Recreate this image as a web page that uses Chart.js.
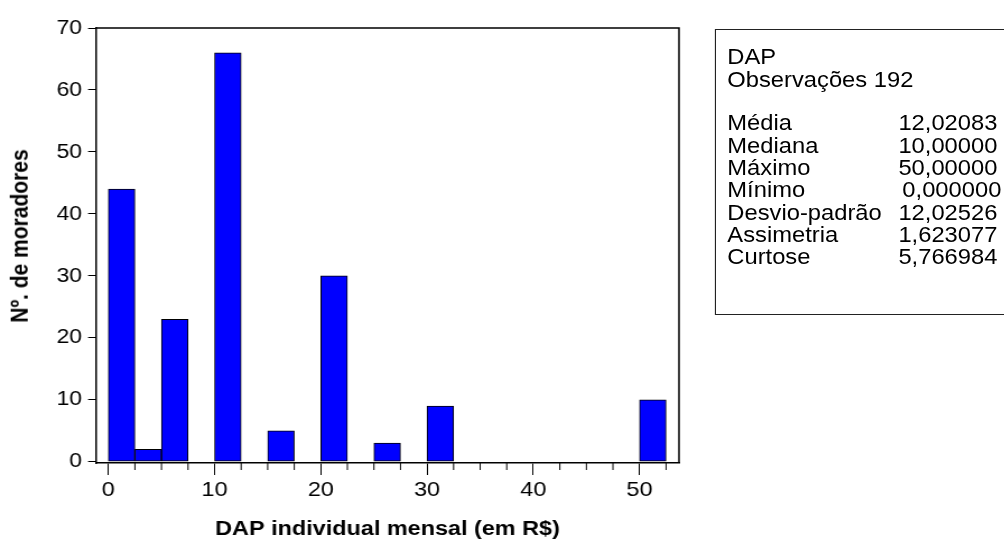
<!DOCTYPE html>
<html>
<head>
<meta charset="utf-8">
<script src="https://cdn.jsdelivr.net/npm/chart.js@4.4.1/dist/chart.umd.min.js"></script>
<style>
body { margin: 0; background: #fff; overflow: hidden; }
/* the original graph is a bit stretched sideways, so draw narrower and widen */
#wrap {
    position: relative; width: 896px; height: 542px;
    transform: scaleX(1.1205); transform-origin: 0 0;
}
#stats {
    position: absolute; left: 637.5px; top: 29px; width: 280px; height: 286px;
    border: 1px solid #222; box-sizing: border-box;
    font-family: "Liberation Sans", Arial, sans-serif; font-size: 21.2px; line-height: 22px; color: #000;
}
#stats .row { position: absolute; left: 10.6px; white-space: nowrap; }
#stats .val { position: absolute; left: 163.3px; white-space: nowrap; }
#ytitle {
    position: absolute; left: 18.3px; top: 236px;
    transform: translate(-50%, -50%) rotate(-90deg);
    font-family: "Liberation Sans", Arial, sans-serif; font-size: 21px; font-weight: bold;
    white-space: nowrap; color: #000;
}
</style>
</head>
<body>
<div id="wrap">
    <canvas id="histChart" width="896" height="542"></canvas>
    <div id="ytitle">Nº. de moradores</div>
    <div id="stats"></div>
</div>
<script>
// histogram bins (start of each bin), width 2.5
const binWidth = 2.5;
const binStarts = [0, 2.5, 5, 10, 15, 20, 25, 30, 50];
const counts = [44, 2, 23, 66, 5, 30, 3, 9, 10];

const xLabelEvery = 10;
const yTickStep = 10;

const statNames = ["Média", "Mediana", "Máximo", "Mínimo", "Desvio-padrão", "Assimetria", "Curtose"];
const statValues = ["12,02083", "10,00000", "50,00000", "0,000000", "12,02526", "1,623077", "5,766984"];

// stats box
const box = document.getElementById("stats");
const lineH = 22.35;
function addLine(y, name, val, valShift) {
    const d = document.createElement("div");
    d.className = "row";
    d.style.top = y + "px";
    d.textContent = name;
    box.appendChild(d);
    if (val !== undefined) {
        const v = document.createElement("div");
        v.className = "val";
        v.style.top = y + "px";
        if (valShift) v.style.left = (163.3 + valShift) + "px";
        v.textContent = val;
        box.appendChild(v);
    }
}
const top0 = 16.3;
addLine(top0, "DAP");
addLine(top0 + 23, "Observações 192");
statNames.forEach((n, i) => {
    addLine(top0 + 66 + lineH * i, n, statValues[i], statValues[i].startsWith("0,") ? 3.5 : 0);
});

// minor ticks + frame
const framePlugin = {
    id: "frame",
    afterDraw(chart) {
        const ctx = chart.ctx;
        const a = chart.chartArea;
        const xs = chart.scales.x;
        ctx.save();
        ctx.strokeStyle = "#000";
        ctx.lineWidth = 1.5;
        ctx.beginPath();
        ctx.moveTo(a.left, a.top);
        ctx.lineTo(a.right, a.top);
        ctx.lineTo(a.right, a.bottom);
        ctx.stroke();
        ctx.lineWidth = 1;
        xs.ticks.forEach(t => {
            if (t.value % xLabelEvery !== 0) {
                const px = xs.getPixelForValue(t.value);
                ctx.beginPath();
                ctx.moveTo(px, a.bottom);
                ctx.lineTo(px, a.bottom + 7);
                ctx.stroke();
            }
        });
        ctx.restore();
    }
};

const font = { family: "'Liberation Sans', Arial, sans-serif", size: 21 };

new Chart(document.getElementById("histChart"), {
    type: "bar",
    data: {
        datasets: [{
            data: binStarts.map((s, i) => ({ x: s + binWidth / 2, y: counts[i] })),
            backgroundColor: "#0000FF",
            borderColor: "#000",
            borderWidth: 1,
            borderSkipped: false,
            barPercentage: 1,
            categoryPercentage: 1,
            grouped: false
        }]
    },
    options: {
        responsive: false,
        animation: false,
        layout: { padding: { left: 0, right: 290, top: 28, bottom: 0 } },
        plugins: { legend: { display: false }, tooltip: { enabled: false } },
        scales: {
            x: {
                type: "linear",
                offset: false,
                min: -1.16,
                max: 53.72,
                afterFit(s) { s.height = 79; },
                border: { display: true, color: "#000", width: 1.5 },
                grid: {
                    offset: false,
                    drawOnChartArea: false,
                    drawTicks: true,
                    tickLength: 12,
                    tickColor: c => (c.tick && c.tick.value % xLabelEvery === 0) ? "#000" : "transparent",
                    tickWidth: 1
                },
                ticks: {
                    stepSize: binWidth,
                    includeBounds: false,
                    autoSkip: false,
                    maxRotation: 0,
                    padding: 3,
                    color: "#000",
                    font: font,
                    callback: v => (v % xLabelEvery === 0 ? String(v) : "")
                },
                title: {
                    display: true,
                    text: "DAP individual mensal (em R$)",
                    color: "#000",
                    font: { family: font.family, size: 20.9, weight: "bold" },
                    padding: { top: 0, bottom: 0 }
                }
            },
            y: {
                min: -0.2,
                max: 70,
                afterFit(s) { s.width = 85.7; },
                border: { display: true, color: "#000", width: 1.5 },
                grid: {
                    drawOnChartArea: false,
                    drawTicks: true,
                    tickLength: 7.1,
                    tickColor: "#000"
                },
                ticks: {
                    stepSize: yTickStep,
                    includeBounds: false,
                    padding: 5.4,
                    color: "#000",
                    font: { family: font.family, size: 20.5 }
                }
            }
        }
    },
    plugins: [framePlugin]
});
</script>
</body>
</html>
